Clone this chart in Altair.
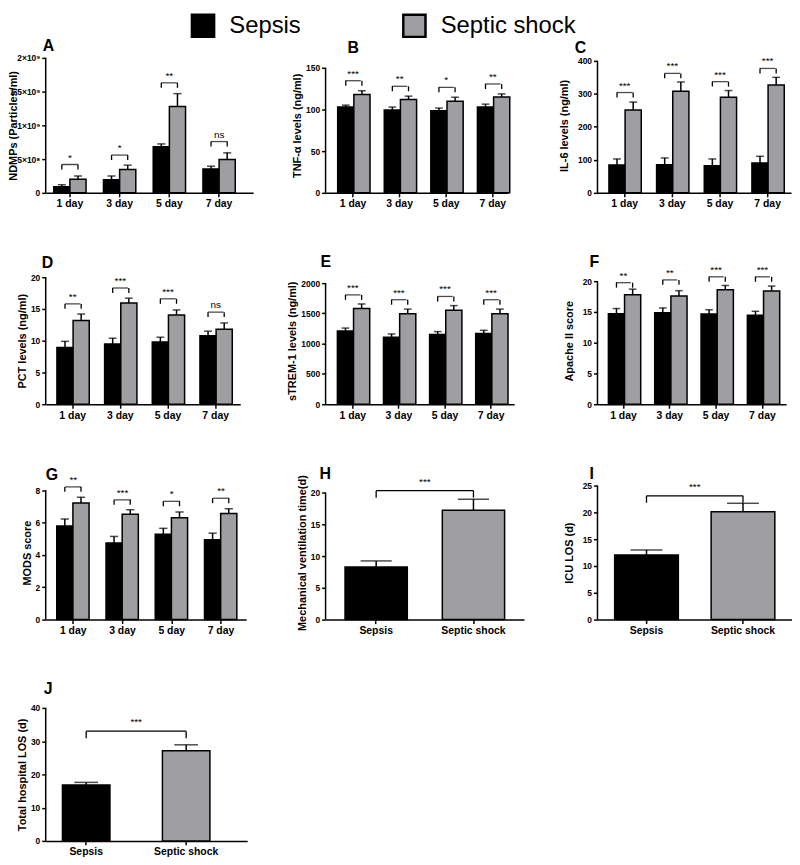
import json
import altair as alt
import pandas as pd

FONT = "Liberation Sans"
DAYS = ["1 day", "3 day", "5 day", "7 day"]
GROUPS = ["Sepsis", "Septic shock"]
COLORS = ["#000000", "#9e9ea3"]

# A  NDMPs
ndmp_sep = [0.92e8, 1.95e8, 6.85e8, 3.55e8]
ndmp_sep_err = [0.28e8, 0.55e8, 0.40e8, 0.40e8]
ndmp_shock = [2.0e8, 3.45e8, 12.8e8, 4.95e8]
ndmp_shock_err = [0.5e8, 0.65e8, 1.9e8, 0.98e8]
ndmp_bracket = [4.2e8, 5.6e8, 16.3e8, 7.6e8]
ndmp_sig = ["*", "*", "**", "ns"]
ndmp_ticks = [0, 5e8, 1e9, 1.5e9, 2e9]
ndmp_tick_labels = ["0", "5×10⁸", "1×10⁹", "1.5×10⁹", "2×10⁹"]

# B  TNF-a
tnf_sep = [102.9, 99.3, 98.5, 102.9]
tnf_sep_err = [2.3, 3.6, 3.2, 3.5]
tnf_shock = [117.9, 111.9, 110.0, 115.1]
tnf_shock_err = [4.7, 4.1, 4.8, 3.6]
tnf_bracket = [134.5, 127.8, 126.6, 130.6]
tnf_sig = ["***", "**", "*", "**"]
tnf_ticks = [0, 50, 100, 150]

# C  IL-6
il6_sep = [84.6, 85.5, 82.5, 90.6]
il6_sep_err = [18.1, 20.2, 20.2, 20.2]
il6_shock = [250.8, 308.0, 290.0, 327.0]
il6_shock_err = [24.2, 28.0, 20.0, 23.0]
il6_bracket = [304, 362, 337, 377]
il6_sig = ["***", "***", "***", "***"]
il6_ticks = [0, 100, 200, 300, 400]

# D  PCT
pct_sep = [8.95, 9.5, 9.8, 10.8]
pct_sep_err = [0.95, 0.9, 0.75, 0.7]
pct_shock = [13.2, 15.95, 14.05, 11.8]
pct_shock_err = [1.0, 0.75, 0.8, 1.0]
pct_bracket = [15.8, 18.3, 16.6, 14.5]
pct_sig = ["**", "***", "***", "ns"]
pct_ticks = [0, 5, 10, 15, 20]

# E  sTREM-1
trem_sep = [1210, 1108, 1151, 1168]
trem_sep_err = [48, 53, 49, 53]
trem_shock = [1581, 1495, 1553, 1495]
trem_shock_err = [75, 76, 76, 76]
trem_bracket = [1806, 1726, 1780, 1726]
trem_sig = ["***", "***", "***", "***"]
trem_ticks = [0, 500, 1000, 1500, 2000]

# F  Apache II
apache_sep = [14.7, 14.85, 14.65, 14.45]
apache_sep_err = [0.85, 0.8, 0.7, 0.65]
apache_shock = [17.8, 17.6, 18.6, 18.4]
apache_shock_err = [0.9, 0.85, 0.7, 0.8]
apache_bracket = [19.75, 20.2, 20.7, 20.7]
apache_sig = ["**", "**", "***", "***"]
apache_ticks = [0, 5, 10, 15, 20]

# G  MODS
mods_sep = [5.78, 4.73, 5.28, 4.94]
mods_sep_err = [0.44, 0.41, 0.36, 0.40]
mods_shock = [7.21, 6.51, 6.30, 6.55]
mods_shock_err = [0.35, 0.28, 0.35, 0.30]
mods_bracket = [8.2, 7.4, 7.31, 7.5]
mods_sig = ["**", "***", "*", "**"]
mods_ticks = [0, 2, 4, 6, 8]

# H, I, J  (Sepsis, Septic shock)
mv_mean = [8.3, 17.23]
mv_err = [0.94, 1.72]
mv_bracket = 20.3
mv_ticks = [0, 5, 10, 15, 20]

icu_mean = [12.05, 20.1]
icu_err = [0.95, 1.6]
icu_bracket = 23.1
icu_ticks = [0, 5, 10, 15, 20, 25]

hosp_mean = [16.8, 27.1]
hosp_err = [0.8, 1.8]
hosp_bracket = 33.0
hosp_ticks = [0, 10, 20, 30, 40]


def step_of(width, n, pi, po):
    return width / (n - pi + 2 * po)


def y_axis(title, ticks, labels=None, tpad=3):
    kw = dict(title=title, values=ticks, domain=False, format="d", titlePadding=tpad)
    if labels is not None:
        mapping = {str(int(v)): l for v, l in zip(ticks, labels)}
        kw["labelExpr"] = "(" + json.dumps(mapping, ensure_ascii=False) + ")[datum.value]"
        kw["maxExtent"] = 24
    return alt.Axis(**kw)


def color_enc():
    return alt.Color("group:N", scale=alt.Scale(domain=GROUPS, range=COLORS),
                     legend=alt.Legend(title=None))


def axis_line(ticks, ys, yax):
    return alt.Chart(pd.DataFrame({"v": [0]})).mark_rule(color="black", strokeWidth=1.5).encode(
        x=alt.value(0),
        y=alt.YDatum(datum=0, type="quantitative", scale=ys, axis=yax),
        y2=alt.datum(ticks[-1]),
    )


def letter_mark(letter, lx, ly):
    return alt.Chart(pd.DataFrame({"t": [letter]})).mark_text(
        font=FONT, fontSize=16, fontWeight="bold", color="black", align="left",
        baseline="alphabetic").encode(x=alt.value(lx), y=alt.value(ly), text="t:N")


def grouped_panel(letter, ytitle, sep, sep_err, shock, shock_err, brk, sig, ticks, dmax,
                  width, height, pi, po, align, lx, ly, labels=None, tpad=3):
    means = sep + shock
    errs = sep_err + shock_err
    grp = [GROUPS[0]] * 4 + [GROUPS[1]] * 4
    df = pd.DataFrame({"day": DAYS * 2, "group": grp, "mean": means,
                       "upper": [m + e for m, e in zip(means, errs)]})
    bdf = pd.DataFrame({"day": DAYS, "y": brk, "sig": sig})
    ldf = pd.DataFrame({"day": DAYS * 2, "group": grp, "y": brk * 2})
    step = step_of(width, 4, pi, po)
    bw = step * (1 - pi)
    xs = alt.Scale(domain=DAYS, paddingInner=pi, paddingOuter=po, align=align)
    x = alt.X("day:N", scale=xs, sort=DAYS, axis=alt.Axis(title=None, labelAngle=0))
    xo = alt.XOffset("group:N", scale=alt.Scale(domain=GROUPS, paddingInner=0, paddingOuter=0))
    ys = alt.Scale(domain=[0, dmax], nice=False, zero=True)
    yax = y_axis(ytitle, ticks, labels, tpad)

    bars = alt.Chart(df).mark_bar(stroke="black", strokeWidth=1.5).encode(
        x=x, xOffset=xo, y=alt.Y("mean:Q", scale=ys, axis=yax), color=color_enc())
    err = alt.Chart(df).mark_rule(color="black", strokeWidth=1.5).encode(
        x=x, xOffset=xo, y=alt.Y("mean:Q", scale=ys, axis=yax), y2="upper:Q")
    cap = alt.Chart(df).mark_tick(color="black", thickness=1.5, size=bw / 4, orient="horizontal").encode(
        x=x, xOffset=xo, y=alt.Y("upper:Q", scale=ys, axis=yax))
    legs = alt.Chart(ldf).mark_rule(color="black", strokeWidth=1.3, y2Offset=5).encode(
        x=x, xOffset=xo, y=alt.Y("y:Q", scale=ys, axis=yax), y2="y:Q")
    top = alt.Chart(bdf).mark_tick(color="black", thickness=1.3, size=bw / 2, orient="horizontal").encode(
        x=x, y=alt.Y("y:Q", scale=ys, axis=yax))
    stars = alt.Chart(bdf).mark_text(baseline="bottom", dy=-2, fontSize=10, font=FONT, color="black").encode(
        x=x, y=alt.Y("y:Q", scale=ys, axis=yax), text="sig:N")
    yl = axis_line(ticks, ys, yax)
    return alt.layer(bars, err, cap, legs, top, stars, yl, letter_mark(letter, lx, ly)).properties(
        width=width, height=height)


def pair_panel(letter, ytitle, means, errs, brk, sig, ticks, dmax,
               width, height, pi, po, align, lx, ly, tpad=3):
    df = pd.DataFrame({"group": GROUPS, "mean": means,
                       "upper": [m + e for m, e in zip(means, errs)]})
    step = step_of(width, 2, pi, po)
    bw = step * (1 - pi)
    xs = alt.Scale(domain=GROUPS, paddingInner=pi, paddingOuter=po, align=align)
    xax = alt.Axis(title=None, labelAngle=0)
    x = alt.X("group:N", scale=xs, sort=GROUPS, axis=xax)
    ys = alt.Scale(domain=[0, dmax], nice=False, zero=True)
    yax = y_axis(ytitle, ticks, None, tpad)
    brdf = pd.DataFrame({"a": [GROUPS[0]], "b": [GROUPS[1]], "y": [brk], "sig": [sig]})
    ldf = pd.DataFrame({"group": GROUPS, "y": [brk, brk]})

    bars = alt.Chart(df).mark_bar(stroke="black", strokeWidth=1.5).encode(
        x=x, y=alt.Y("mean:Q", scale=ys, axis=yax), color=color_enc())
    err = alt.Chart(df).mark_rule(color="black", strokeWidth=1.5).encode(
        x=x, y=alt.Y("mean:Q", scale=ys, axis=yax), y2="upper:Q")
    cap = alt.Chart(df).mark_tick(color="black", thickness=1.5, size=bw / 2, orient="horizontal").encode(
        x=x, y=alt.Y("upper:Q", scale=ys, axis=yax))
    hline = alt.Chart(brdf).mark_rule(color="black", strokeWidth=1.3).encode(
        x=alt.X("a:N", scale=xs, sort=GROUPS, axis=xax), x2="b:N",
        y=alt.Y("y:Q", scale=ys, axis=yax))
    legs = alt.Chart(ldf).mark_rule(color="black", strokeWidth=1.3, y2Offset=7).encode(
        x=x, y=alt.Y("y:Q", scale=ys, axis=yax), y2="y:Q")
    stars = alt.Chart(brdf).mark_text(baseline="bottom", dy=-4, dx=step / 2, fontSize=10,
                                      font=FONT, color="black").encode(
        x=alt.X("a:N", scale=xs, sort=GROUPS, axis=xax),
        y=alt.Y("y:Q", scale=ys, axis=yax), text="sig:N")
    yl = axis_line(ticks, ys, yax)
    return alt.layer(bars, err, cap, hline, legs, stars, yl, letter_mark(letter, lx, ly)).properties(
        width=width, height=height)


H1, H2, H3, H4 = 136, 128, 135, 134

pA = grouped_panel("A", "NDMPs (Particles/ml)", ndmp_sep, ndmp_sep_err, ndmp_shock, ndmp_shock_err,
                   ndmp_bracket, ndmp_sig, ndmp_ticks, 2e9, 209, H1, 0.35, 0.26, 0.31, -3, -7,
                   labels=ndmp_tick_labels)
pB = grouped_panel("B", "TNF-α levels (ng/ml)", tnf_sep, tnf_sep_err, tnf_shock, tnf_shock_err,
                   tnf_bracket, tnf_sig, tnf_ticks, 161.9, 184, H1, 0.34, 0.13, 1.0, 22, -5)
pC = grouped_panel("C", "IL-6 levels (ng/ml)", il6_sep, il6_sep_err, il6_shock, il6_shock_err,
                   il6_bracket, il6_sig, il6_ticks, 409, 195, H1, 0.34, 0.2, 0.6, -23, -5, tpad=8)
pD = grouped_panel("D", "PCT levels (ng/ml)", pct_sep, pct_sep_err, pct_shock, pct_shock_err,
                   pct_bracket, pct_sig, pct_ticks, 20, 196, H2, 0.34, 0.21, 0.56, -4, -9)
pE = grouped_panel("E", "sTREM-1 levels (ng/ml)", trem_sep, trem_sep_err, trem_shock, trem_shock_err,
                   trem_bracket, trem_sig, trem_ticks, 2098, 190, H2, 0.33, 0.21, 0.61, -5, -10)
pF = grouped_panel("F", "Apache II score", apache_sep, apache_sep_err, apache_shock, apache_shock_err,
                   apache_bracket, apache_sig, apache_ticks, 20.64, 190, H2, 0.35, 0.21, 0.56, -8, -10,
                   tpad=8)
pG = grouped_panel("G", "MODS score", mods_sep, mods_sep_err, mods_shock, mods_shock_err,
                   mods_bracket, mods_sig, mods_ticks, 8.28, 202, H3, 0.33, 0.2, 0.56, 0, -6)
pH = pair_panel("H", "Mechanical ventilation time(d)", mv_mean, mv_err, mv_bracket, "***",
                mv_ticks, 21.1, 200, H3, 0.36, 0.2, 0.5, -6, -7)
pI = pair_panel("I", "ICU LOS (d)", icu_mean, icu_err, icu_bracket, "***",
                icu_ticks, 25, 196, H3, 0.34, 0.178, 0.5, -8, -7, tpad=8)
pJ = pair_panel("J", "Total hospital LOS (d)", hosp_mean, hosp_err, hosp_bracket, "***",
                hosp_ticks, 40, 203, H4, 0.525, 0.27, 0.31, -2, -14)

chart = alt.concat(pA, pB, pC, pD, pE, pF, pG, pH, pI, pJ, columns=3,
                   spacing={"row": 45, "column": 34}).properties(
    align="each", padding={"left": 0, "top": 2, "right": 0, "bottom": 0}
).resolve_scale(color="shared").resolve_legend(color="shared").configure_view(
    stroke=None
).configure_axis(
    labelFont=FONT, labelFontWeight="bold", labelColor="black",
    titleFont=FONT, titleFontWeight="bold", titleColor="black", titleFontSize=11,
    tickColor="black", tickSize=4, tickWidth=1.5,
    domainColor="black", domainWidth=1.5, grid=False,
).configure_axisX(labelFontSize=10.5, labelPadding=2).configure_axisY(
    labelFontSize=8.5, labelPadding=2
).configure_legend(
    orient="none", legendX=146, legendY=-45, direction="horizontal",
    symbolType="square", symbolSize=500, symbolStrokeColor="black", symbolStrokeWidth=2.5,
    labelFont=FONT, labelFontSize=24, labelColor="black", labelOffset=14, columnPadding=97,
)

chart.save("out.html", embed_options={"renderer": "svg", "actions": False})
